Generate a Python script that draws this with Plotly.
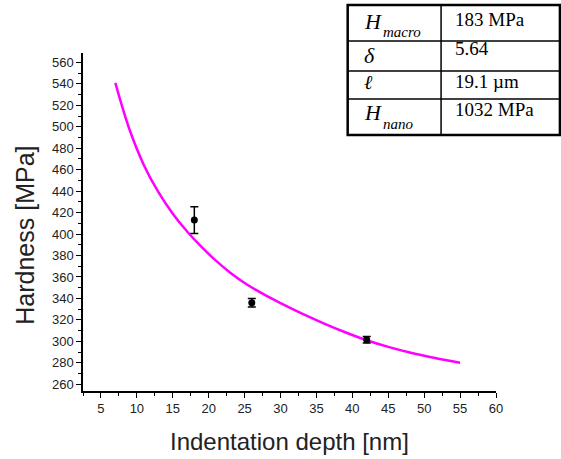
import plotly.graph_objects as go

# Fitted curve
curve_x = [7, 9, 11, 13, 15, 17, 19, 21, 23, 25, 27.5, 30, 33, 36, 39, 42, 45, 48, 51.5, 55]
curve_y = [541, 497, 464, 439, 419, 402.4, 388, 375.2, 364, 354.4, 344.4, 335.6, 325.8, 316.8, 308.5, 301, 294.8, 289.6, 284.5, 280]

# Measured data with error bars
depth = [18.0, 26.0, 42.0]
hardness = [413, 336, 301.5]
hard_err = [12.5, 4, 3]

# Table content
table_symbols = ["H", "δ", "ℓ", "H"]
table_subs = ["macro", "", "", "nano"]
table_values = ["183 MPa", "5.64", "19.1 µm", "1032 MPa"]

W, H = 561, 459
L, R, T, B = 82.5, 496.0, 53.0, 390.7

def px(xp):
    return (xp - L) / (R - L)

def py(yp):
    return (B - yp) / (B - T)

fig = go.Figure()
fig.add_trace(go.Scatter(x=curve_x, y=curve_y, mode="lines",
                         line=dict(color="#FF00FF", width=2.5, shape="spline", smoothing=1.0),
                         showlegend=False, hoverinfo="skip"))
fig.add_trace(go.Scatter(x=depth, y=hardness, mode="markers",
                         marker=dict(color="black", size=7),
                         error_y=dict(type="data", array=hard_err, color="black", thickness=1.5, width=4),
                         showlegend=False))

axis_common = dict(showgrid=False, zeroline=False, showline=True, linecolor="black", linewidth=1.5,
                   ticks="outside", ticklen=5, tickwidth=1.2, tickcolor="black",
                   tickfont=dict(family="Liberation Sans, Arial", size=13, color="#222"), mirror=False)

fig.update_xaxes(range=[2.5, 60], tick0=0, dtick=5,
                 minor=dict(dtick=2.5, ticks="outside", ticklen=3, tickcolor="black", tickwidth=1.2),
                 **axis_common)
fig.update_yaxes(range=[253.7, 568.8], tick0=0, dtick=20,
                 minor=dict(dtick=10, ticks="outside", ticklen=3, tickcolor="black", tickwidth=1.2),
                 **axis_common)

annotations = [
    dict(text="Indentation depth [nm]", x=px((L + R) / 2), y=py(441), xref="paper", yref="paper",
         showarrow=False, xanchor="center", yanchor="middle",
         font=dict(family="Liberation Sans, Arial", size=24, color="#222")),
    dict(text="Hardness [MPa]", x=px(25), y=py(235), xref="paper", yref="paper", textangle=-90,
         showarrow=False, xanchor="center", yanchor="middle",
         font=dict(family="Liberation Sans, Arial", size=25, color="#222")),
]

# Table geometry (pixels)
tl, tc, tr = 347.5, 441.0, 560.0
row_lines = [5, 41, 71, 99, 135]
shapes = [
    dict(type="rect", xref="paper", yref="paper", x0=px(tl), x1=px(tr), y0=py(row_lines[-1]), y1=py(row_lines[0]),
         line=dict(color="black", width=2.5), fillcolor="white", layer="above"),
    dict(type="line", xref="paper", yref="paper", x0=px(tc), x1=px(tc), y0=py(row_lines[-1]), y1=py(row_lines[0]),
         line=dict(color="black", width=1.5)),
]
for r in row_lines[1:-1]:
    shapes.append(dict(type="line", xref="paper", yref="paper", x0=px(tl), x1=px(tr), y0=py(r), y1=py(r),
                       line=dict(color="black", width=1.5)))

sym_centers = [22, 55, 82, 112]
sub_centers = [32.5, None, None, 124]
val_centers = [19.5, 49, 81.5, 109]
sym_sizes = [22, 22, 20, 22]
serif = "Liberation Serif, Times New Roman"
for i in range(4):
    annotations.append(dict(text="<i>" + table_symbols[i] + "</i>", x=px(362), y=py(sym_centers[i]),
                            xref="paper", yref="paper", showarrow=False, xanchor="left", yanchor="middle",
                            font=dict(family=serif, size=sym_sizes[i], color="black")))
    if table_subs[i]:
        annotations.append(dict(text="<i>" + table_subs[i] + "</i>", x=px(380.5), y=py(sub_centers[i]),
                                xref="paper", yref="paper", showarrow=False, xanchor="left", yanchor="middle",
                                font=dict(family=serif, size=15, color="black")))
    annotations.append(dict(text=table_values[i], x=px(453), y=py(val_centers[i]),
                            xref="paper", yref="paper", showarrow=False, xanchor="left", yanchor="middle",
                            font=dict(family=serif, size=19, color="black")))

fig.update_layout(width=W, height=H, margin=dict(l=L, r=W - R, t=T, b=H - B),
                  paper_bgcolor="white", plot_bgcolor="white",
                  shapes=shapes, annotations=annotations)

fig.write_html("out.html", config={"displayModeBar": False},
               post_script="document.body.style.margin='0';document.body.style.overflow='hidden';")
